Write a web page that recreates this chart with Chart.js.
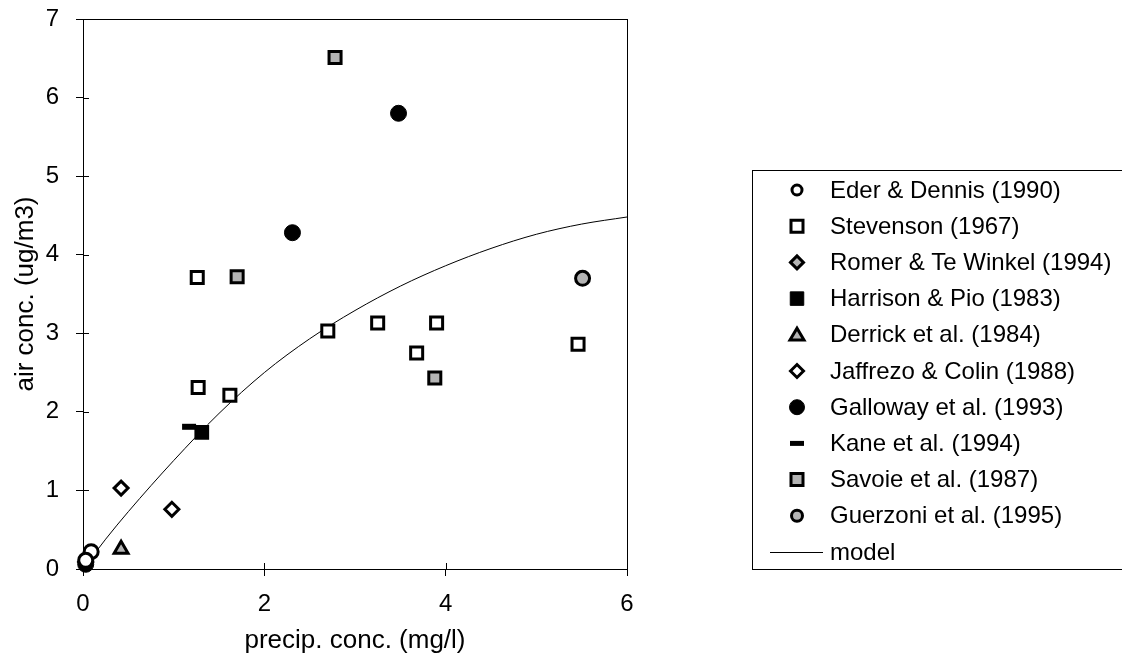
<!DOCTYPE html>
<html>
<head>
<meta charset="utf-8">
<script src="https://cdn.jsdelivr.net/npm/chart.js@4.4.1/dist/chart.umd.min.js"></script>
<style>
html,body{margin:0;padding:0;background:#fff;}
#wrap{width:1122px;height:660px;position:relative;}
</style>
</head>
<body>
<div id="wrap"><canvas id="c" width="1122" height="660"></canvas></div>
<script>
// ---- data ----
const seriesNames = ["Eder & Dennis (1990)","Stevenson (1967)","Romer & Te Winkel (1994)","Harrison & Pio (1983)","Derrick et al. (1984)","Jaffrezo & Colin (1988)","Galloway et al. (1993)","Kane et al. (1994)","Savoie et al. (1987)","Guerzoni et al. (1995)","model"];
const ederDennis = [[0.09,0.22],[0.03,0.11]];
const stevenson = [[1.26,3.71],[1.27,2.31],[1.62,2.21],[2.70,3.03],[3.25,3.13],[3.90,3.13],[3.68,2.75],[5.46,2.86]];
const romerTeWinkel = [[0.03,0.09]];
const harrisonPio = [[1.31,1.74]];
const derrick = [[0.42,0.25]];
const jaffrezoColin = [[0.42,1.03],[0.98,0.76]];
const galloway = [[2.31,4.28],[3.48,5.80],[0.03,0.06]];
const kane = [[1.17,1.81]];
const savoie = [[1.70,3.72],[2.78,6.51],[3.88,2.43]];
const guerzoni = [[5.51,3.70]];
const modelX = [0,0.25,0.5,1,1.5,2,2.5,3,3.5,4,4.5,5,5.5,6];
const modelY = [0,0.38,0.73,1.38,1.98,2.50,2.93,3.29,3.60,3.86,4.08,4.26,4.39,4.48];
const xTicks = [0,2,4,6];
const yTicks = [0,1,2,3,4,5,6,7];

const GRAY = '#b4b4b4';
const toPts = arr => arr.map(p => ({x:p[0], y:p[1]}));

// marker styles
const styles = [
  {pointStyle:'circle', radius:7, fill:'#fff', border:'#000', bw:3, lr:5, lbw:3},
  {pointStyle:'rect', radius:8.5, fill:'#fff', border:'#000', bw:3, lr:8, lbw:3},
  {pointStyle:'rectRot', radius:7, fill:GRAY, border:'#000', bw:3, lr:6.5, lbw:3},
  {pointStyle:'rect', radius:9, fill:'#000', border:'#000', bw:2, lr:9, lbw:1},
  {pointStyle:'triangle', radius:8, fill:GRAY, border:'#000', bw:3, lr:7, lbw:3},
  {pointStyle:'rectRot', radius:7, fill:'#fff', border:'#000', bw:3, lr:6.5, lbw:3},
  {pointStyle:'circle', radius:8, fill:'#000', border:'#000', bw:1, lr:7.5, lbw:1},
  {pointStyle:'line', radius:7, fill:'#000', border:'#000', bw:6, lr:7, lbw:5},
  {pointStyle:'rect', radius:8.5, fill:GRAY, border:'#000', bw:3, lr:8, lbw:3},
  {pointStyle:'circle', radius:7, fill:GRAY, border:'#000', bw:3, lr:5.5, lbw:3}
];
const seriesData = [ederDennis, stevenson, romerTeWinkel, harrisonPio, derrick, jaffrezoColin, galloway, kane, savoie, guerzoni];

const datasets = seriesData.map((d,i) => ({
  label: seriesNames[i],
  type: 'scatter',
  data: toPts(d),
  pointStyle: styles[i].pointStyle,
  pointRadius: styles[i].radius,
  pointBackgroundColor: styles[i].fill,
  pointBorderColor: styles[i].border,
  pointBorderWidth: styles[i].bw,
  pointHoverRadius: styles[i].radius,
  clip: false
}));
datasets.push({
  label: seriesNames[10],
  type: 'line',
  data: modelX.map((x,i)=>({x:x, y:modelY[i]})),
  borderColor: '#000',
  borderWidth: 1,
  pointRadius: 0,
  tension: 0.4,
  cubicInterpolationMode: 'monotone',
  fill: false,
  clip: false
});

const FONT = "'Liberation Sans', Arial, sans-serif";

// frame around plot area
const framePlugin = {
  id: 'frame',
  beforeDatasetsDraw(chart) {
    const a = chart.chartArea, ctx = chart.ctx;
    ctx.save();
    ctx.strokeStyle = '#000';
    ctx.lineWidth = 1;
    ctx.strokeRect(a.left + 0.5, a.top + 0.5, a.right - a.left, a.bottom - a.top);
    // ticks crossing into the plot
    ctx.beginPath();
    const xs = chart.scales.x, ys = chart.scales.y;
    xTicks.forEach(v => { const px = Math.round(xs.getPixelForValue(v)) + 0.5; ctx.moveTo(px, a.bottom); ctx.lineTo(px, a.bottom - 6); });
    yTicks.forEach(v => { const py = Math.round(ys.getPixelForValue(v)) + 0.5; ctx.moveTo(a.left, py); ctx.lineTo(a.left + 6, py); });
    ctx.stroke();
    ctx.restore();
  }
};

function drawMarker(ctx, st, x, y, r, bw) {
  ctx.save();
  ctx.fillStyle = st.fill;
  ctx.strokeStyle = st.border;
  ctx.lineWidth = bw;
  ctx.beginPath();
  if (st.pointStyle === 'circle') {
    ctx.arc(x, y, r, 0, Math.PI*2);
  } else if (st.pointStyle === 'rect') {
    ctx.rect(x - r*0.75, y - r*0.75, r*1.5, r*1.5);
  } else if (st.pointStyle === 'rectRot') {
    ctx.moveTo(x - r, y); ctx.lineTo(x, y - r); ctx.lineTo(x + r, y); ctx.lineTo(x, y + r); ctx.closePath();
  } else if (st.pointStyle === 'triangle') {
    ctx.moveTo(x - r, y + r*0.75); ctx.lineTo(x, y - r*0.95); ctx.lineTo(x + r, y + r*0.75); ctx.closePath();
  } else if (st.pointStyle === 'line') {
    ctx.moveTo(x - r, y); ctx.lineTo(x + r, y);
    ctx.stroke(); ctx.restore(); return;
  }
  ctx.fill();
  ctx.stroke();
  ctx.restore();
}

const legendPlugin = {
  id: 'customLegend',
  afterDraw(chart) {
    const ctx = chart.ctx;
    const left = 752, top = 170, bottom = 569, right = 1130;
    ctx.save();
    ctx.strokeStyle = '#000';
    ctx.lineWidth = 1;
    ctx.strokeRect(left + 0.5, top + 0.5, right - left, bottom - top);
    ctx.font = "24px " + FONT;
    ctx.fillStyle = '#000';
    ctx.textBaseline = 'middle';
    ctx.textAlign = 'left';
    const step = 36.2;
    for (let i = 0; i < seriesNames.length; i++) {
      const y = 190 + i*step;
      if (i < styles.length) {
        drawMarker(ctx, styles[i], 797, y, styles[i].lr, styles[i].lbw);
      } else {
        ctx.beginPath();
        ctx.lineWidth = 1;
        ctx.moveTo(770, y + 0.5); ctx.lineTo(823, y + 0.5);
        ctx.stroke();
      }
      ctx.fillText(seriesNames[i], 830, y + 1);
    }
    ctx.restore();
  }
};

new Chart(document.getElementById('c'), {
  type: 'scatter',
  data: { datasets: datasets },
  options: {
    responsive: false,
    animation: false,
    devicePixelRatio: 1,
    layout: { padding: { left: 0, top: 19, right: 495, bottom: 0 } },
    plugins: { legend: { display: false }, tooltip: { enabled: false } },
    scales: {
      x: {
        type: 'linear', min: 0, max: 6,
        afterBuildTicks(scale) { scale.ticks = xTicks.map(v => ({value: v})); },
        afterFit(scale) { scale.height = 660 - 569; scale.paddingLeft = 0; scale.paddingRight = 0; },
        border: { color: '#000', width: 1 },
        grid: { drawOnChartArea: false, tickLength: 7, color: '#000', tickColor: '#000' },
        ticks: { color: '#000', font: { family: FONT, size: 24 }, padding: 14 },
        title: { display: true, text: 'precip. conc. (mg/l)', color: '#000', font: { family: FONT, size: 26 }, padding: { top: 4, bottom: 4 } }
      },
      y: {
        type: 'linear', min: 0, max: 7,
        afterBuildTicks(scale) { scale.ticks = yTicks.map(v => ({value: v})); },
        afterFit(scale) { scale.width = 83; scale.paddingTop = 0; scale.paddingBottom = 0; },
        border: { color: '#000', width: 1 },
        grid: { drawOnChartArea: false, tickLength: 7, color: '#000', tickColor: '#000' },
        ticks: { color: '#000', font: { family: FONT, size: 24 }, padding: 17 },
        title: { display: true, text: 'air conc. (ug/m3)', color: '#000', font: { family: FONT, size: 26 }, padding: { top: 10, bottom: 0 } }
      }
    }
  },
  plugins: [framePlugin, legendPlugin]
});
</script>
</body>
</html>
